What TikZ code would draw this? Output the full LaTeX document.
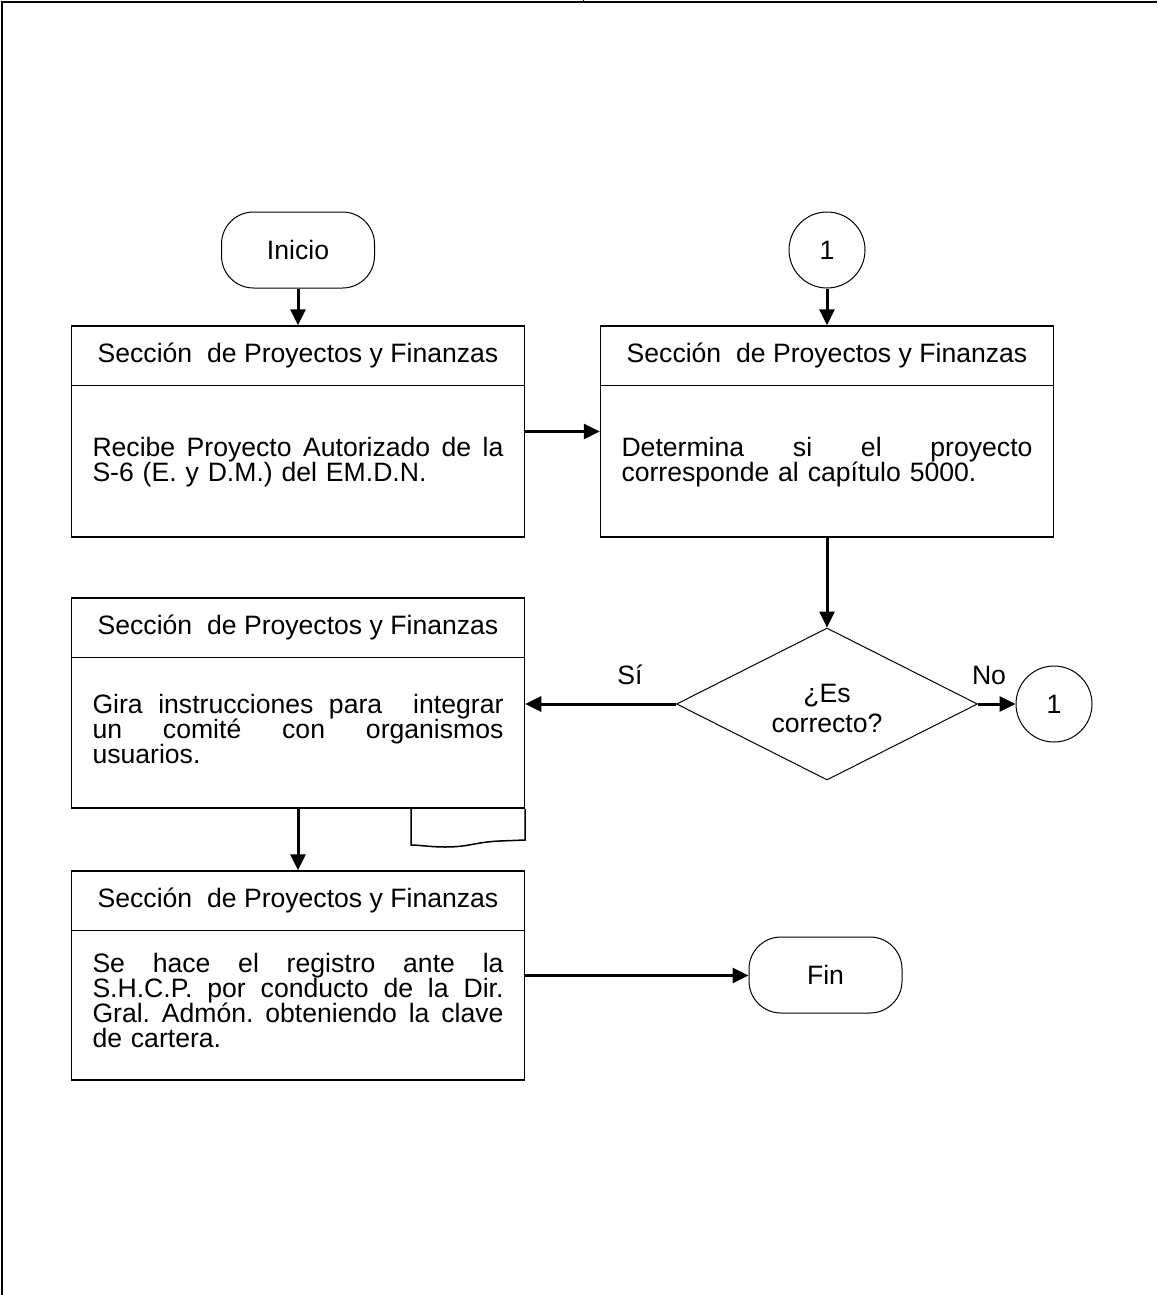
\documentclass[tikz,border=0pt]{standalone}
\usepackage{fontspec}
\setmainfont{Liberation Sans}
\usetikzlibrary{shapes.geometric,arrows.meta,positioning,calc}
\newlength{\bodywd}
\setlength{\bodywd}{205.5pt}
\newcommand{\jline}[1]{\leavevmode\hbox to \bodywd{\spaceskip=0.278em plus 1fil\relax #1}}
\newcommand{\flowfont}{\fontsize{13.3}{12.5}\selectfont\frenchspacing\lineskiplimit=-20pt\lineskip=0pt\relax}
\tikzset{
    procbox/.style={draw, line width=0.75pt, minimum width=226.5pt, minimum height=105.5pt, inner sep=0pt},
    headtext/.style={font=\flowfont, inner sep=0pt},
    bodytext/.style={font=\flowfont, text width=\bodywd, align=left, inner sep=0pt},
    terminal/.style={draw, line width=0.5pt, rounded corners=16pt, minimum width=76.5pt, minimum height=38pt, inner sep=0pt, font=\flowfont},
    connector/.style={draw, circle, line width=0.5pt, minimum size=38pt, inner sep=0pt, font=\flowfont},
    decision/.style={draw, diamond, aspect=2, line width=0.5pt, minimum width=150.5pt, minimum height=76pt, inner sep=0pt, align=center, font=\fontsize{13.3}{15}\selectfont},
    flow/.style={line width=1.5pt, -{Triangle[length=8pt,width=7.5pt]}},
    flowlabel/.style={font=\flowfont, inner sep=0pt}
}

\begin{document}
\begin{tikzpicture}[x=0.5pt, y=-0.5pt]
    \useasboundingbox (0,0) rectangle (1157,1295);
    % page frame
    \draw[line width=0.75pt] (2,1295) -- (2,2) -- (1157,2);
    \draw[line width=0.5pt] (583,0) -- (583,2);

    % nodes
    \node[terminal] (inicio) at (298,250) {Inicio};
    \node[procbox] (recibe) at (298,431.5) {};
    \node[connector] (conA) at (827,250) {1};
    \node[procbox] (determina) at (827,431.5) {};
    \node[decision] (decide) at (827,704) {\rule{0pt}{13.5pt}¿Es\\correcto?};
    \node[connector] (conB) at (1054,704) {1};
    \node[procbox, minimum height=105pt] (gira) at (298,703) {};
    \node[procbox, minimum height=104.5pt] (registro) at (298,975.5) {};
    \node[terminal] (fin) at (825.5,975) {Fin};

    % headers
    \foreach \b in {recibe,determina,gira,registro} {
        \draw[line width=0.75pt] ($(\b.north west)+(0,60)$) -- ($(\b.north east)+(0,60)$);
        \node[headtext] (\b-head) at ($(\b.north)+(0,30)$) {Sección~ de Proyectos y Finanzas};
    }

    % body texts
    \node[bodytext] (recibe-txt) at (298,462.5) {\jline{Recibe Proyecto Autorizado de la}\\S-6 (E. y D.M.) del EM.D.N.};
    \node[bodytext] (determina-txt) at (827,462.5) {\jline{Determina si el proyecto}\\corresponde al capítulo 5000.};
    \node[bodytext] (gira-txt) at (298,729) {\jline{Gira instrucciones para~ integrar}\\\jline{un comité con organismos}\\usuarios.};
    \node[bodytext] (registro-txt) at (298,1000) {\jline{Se hace el registro ante la}\\\jline{S.H.C.P. por conducto de la Dir.}\\\jline{Gral. Admón. obteniendo la clave}\\de cartera.};

    % document tab
    \draw[line width=0.75pt] (gira.south east) -- (525,840) -- (500,841) .. controls (475,842) and (470,847) .. (445,847) .. controls (430,847) and (420,845) .. (411,845) -- (411,808.5);

    % labels
    \node[flowlabel] (si) at (630,675) {Sí};
    \node[flowlabel] (no) at (989,675) {No};

    % connectors
    \draw[flow] (inicio) -- (recibe);
    \draw[flow] (conA) -- (determina);
    \draw[flow] (recibe) -- (determina);
    \draw[flow] (determina) -- (decide);
    \draw[flow] (decide.west) -- (decide.west -| gira.east);
    \draw[flow] (decide) -- (conB);
    \draw[flow] (gira) -- (registro);
    \draw[flow] (registro.east) -- (registro.east -| fin.west);
\end{tikzpicture}
\end{document}
